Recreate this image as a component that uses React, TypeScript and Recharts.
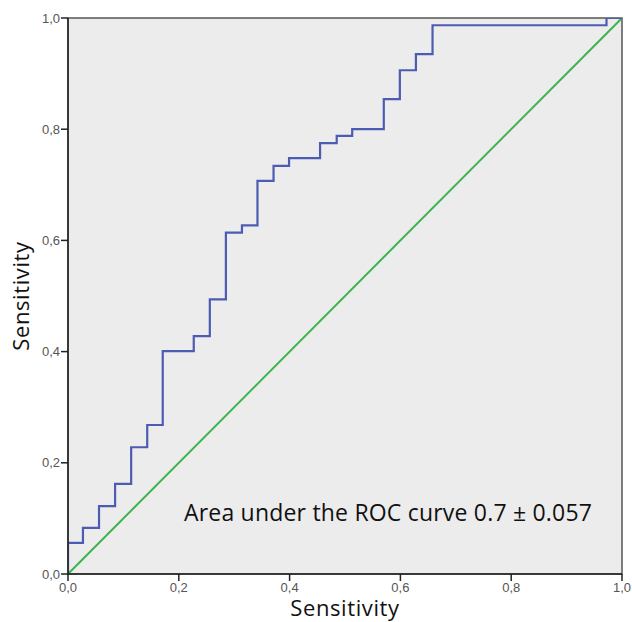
import { LineChart, Line, XAxis, YAxis, ReferenceArea } from "recharts";

// ROC curve corner points (1 - specificity, sensitivity), drawn as steps
const fpr = [0, 0, 0.027, 0.056, 0.085, 0.114, 0.143, 0.171, 0.227, 0.256, 0.285, 0.314, 0.342, 0.371, 0.399, 0.455, 0.485, 0.513, 0.57, 0.599, 0.628, 0.658, 0.972, 1.0];
const tpr = [0, 0.056, 0.083, 0.122, 0.162, 0.228, 0.268, 0.401, 0.428, 0.494, 0.614, 0.627, 0.707, 0.734, 0.748, 0.775, 0.788, 0.8, 0.854, 0.906, 0.935, 0.987, 1.0, 1.0];
const diagonal = [0, 1];
const ticks = [0, 0.2, 0.4, 0.6, 0.8, 1.0];

const rocData = fpr.map((x, i) => ({ x, y: tpr[i] }));
const refData = diagonal.map((v) => ({ x: v, y: v }));

const fmt = (v: number) => v.toFixed(1).replace(".", ",");
const tickStyle = { fontSize: 13, fill: "#555", fontFamily: "Liberation Sans, Arial, sans-serif" };
const titleStyle = { fontSize: 22, letterSpacing: 0.6, fill: "#111", fontFamily: "Open Sans, sans-serif" };

export default function App() {
  return (
    <div style={{ position: "absolute", left: 0, top: 0, width: 632, height: 622, background: "#fff" }}>
      <LineChart width={632} height={622} margin={{ top: 18, right: 10, left: 0, bottom: 0 }}>
        <XAxis
          type="number"
          dataKey="x"
          domain={[0, 1]}
          ticks={ticks}
          tickFormatter={fmt}
          height={48}
          tickSize={7}
          tickMargin={2}
          tick={tickStyle}
          axisLine={{ stroke: "#222", strokeWidth: 1.5 }}
          tickLine={{ stroke: "#222", strokeWidth: 1.5 }}
          allowDataOverflow
          label={{ value: "Sensitivity", position: "insideBottom", offset: 6, style: titleStyle }}
        />
        <YAxis
          type="number"
          dataKey="y"
          domain={[0, 1]}
          ticks={ticks}
          tickFormatter={fmt}
          width={68}
          tickSize={7}
          tickMargin={1}
          tick={tickStyle}
          axisLine={{ stroke: "#222", strokeWidth: 1.5 }}
          tickLine={{ stroke: "#222", strokeWidth: 1.5 }}
          allowDataOverflow
          label={{
            value: "Sensitivity",
            angle: -90,
            position: "insideLeft",
            offset: 21,
            style: { ...titleStyle, textAnchor: "middle" },
          }}
        />
        <ReferenceArea x1={0} x2={1} y1={0} y2={1} fill="#ececec" fillOpacity={1} stroke="#555" strokeWidth={1.5} />
        <Line
          data={refData}
          dataKey="y"
          type="linear"
          stroke="#3cb44b"
          strokeWidth={2}
          dot={false}
          isAnimationActive={false}
        />
        <Line
          data={rocData}
          dataKey="y"
          type="stepAfter"
          stroke="#4c5cb3"
          strokeWidth={2.2}
          dot={false}
          isAnimationActive={false}
        />
      </LineChart>
      <div
        style={{
          position: "absolute",
          left: 184,
          top: 501,
          fontSize: 23,
          letterSpacing: 0.2,
          lineHeight: 1,
          whiteSpace: "nowrap",
          color: "#111",
          fontFamily: "Open Sans, sans-serif",
        }}
      >
        Area under the ROC curve 0.7 ± 0.057
      </div>
    </div>
  );
}
